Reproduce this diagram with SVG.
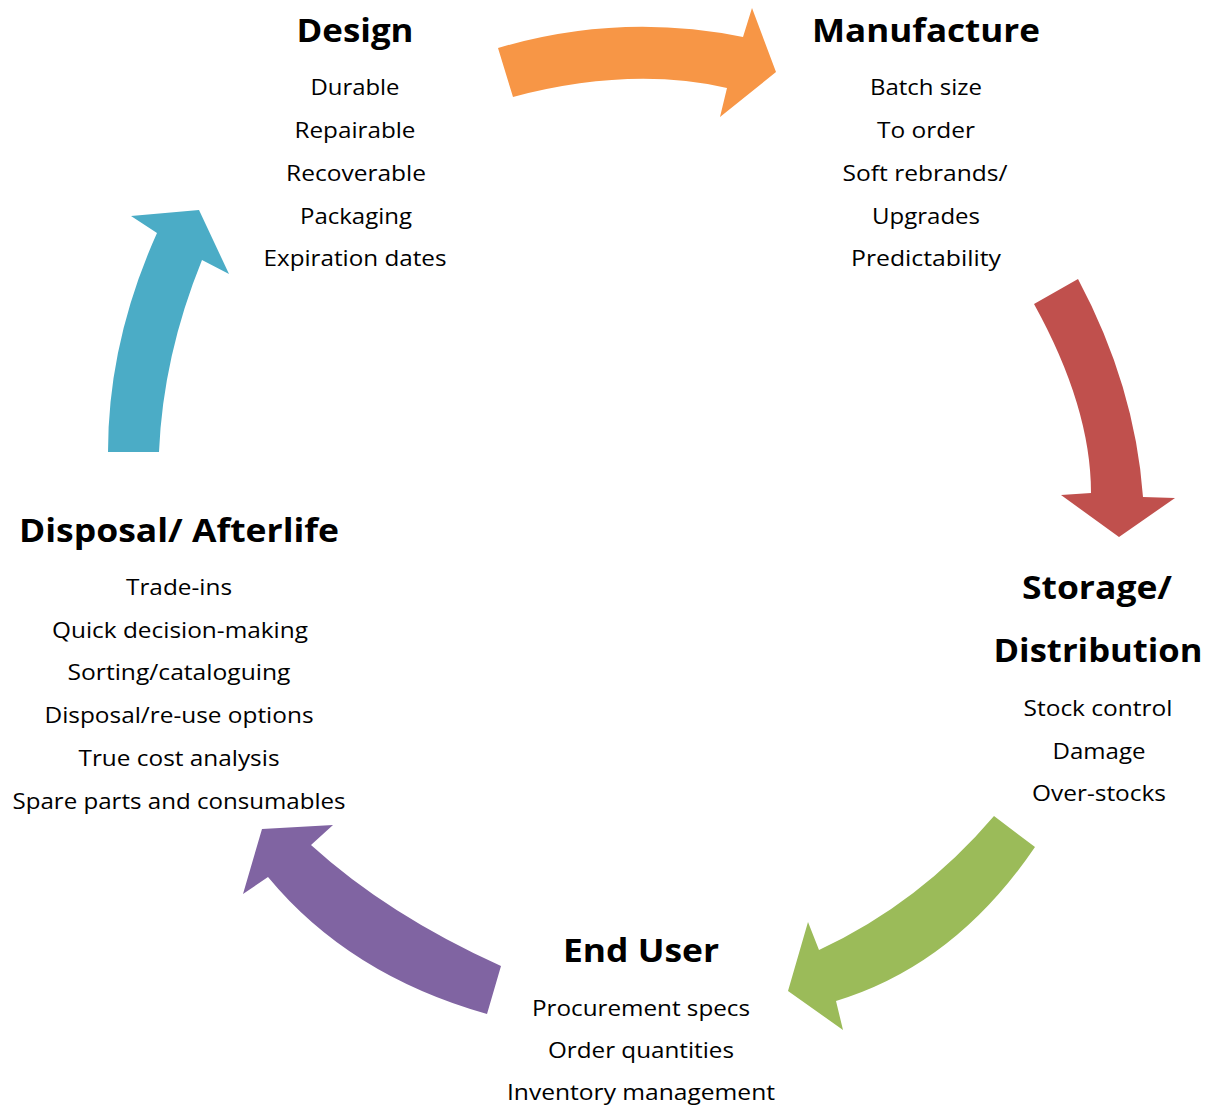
<svg xmlns="http://www.w3.org/2000/svg" width="1206" height="1106" viewBox="0 0 1206 1106">
<style>
text{font-family:"Open Sans","Liberation Sans",sans-serif;fill:#000;text-anchor:middle}
.t{font-size:33px;font-weight:bold}
.b{font-size:22px}
</style>
<rect width="1206" height="1106" fill="#fff"/>
<g id="connectors">
<path id="a-design-manufacture" fill="#F79646" d="M498,48 Q620,12 743,37 L752,8 L776,72 L720,117 L727,88 Q630,66 513,97 Z"/>
<path id="a-manufacture-storage" fill="#C0504D" d="M1034,304 L1078,279 Q1135,386 1143,497 L1175,498 L1119,537 L1061,495 L1091,493 Q1091,407 1034,304 Z"/>
<path id="a-storage-enduser" fill="#9BBB59" d="M994,816 L1035,847 Q955,965 836,1001 L843,1030 L788,991 L808,922 L819,950 Q920,903 994,816 Z"/>
<path id="a-enduser-disposal" fill="#8064A2" d="M501,966 L487,1014 Q349,975 268,877 L243,894 L262,829 L333,825 L311,845 Q388,915 501,966 Z"/>
<path id="a-disposal-design" fill="#4BACC6" d="M108,452 L159,452 Q163,356 202,260 L229,274 L199,210 L131,216 L157,233 Q108,342 108,452 Z"/>
</g>
<g id="design">
<text class="t" x="355" y="42" textLength="117" lengthAdjust="spacingAndGlyphs">Design</text>
<text class="b" x="355" y="95" textLength="89" lengthAdjust="spacingAndGlyphs">Durable</text>
<text class="b" x="355" y="138" textLength="121" lengthAdjust="spacingAndGlyphs">Repairable</text>
<text class="b" x="356" y="181" textLength="140" lengthAdjust="spacingAndGlyphs">Recoverable</text>
<text class="b" x="356" y="224" textLength="112" lengthAdjust="spacingAndGlyphs">Packaging</text>
<text class="b" x="355" y="266" textLength="183" lengthAdjust="spacingAndGlyphs">Expiration dates</text>
</g>
<g id="manufacture">
<text class="t" x="926" y="42" textLength="228" lengthAdjust="spacingAndGlyphs">Manufacture</text>
<text class="b" x="926" y="95" textLength="112" lengthAdjust="spacingAndGlyphs">Batch size</text>
<text class="b" x="926" y="138" textLength="98" lengthAdjust="spacingAndGlyphs">To order</text>
<text class="b" x="925" y="181" textLength="165" lengthAdjust="spacingAndGlyphs">Soft rebrands/</text>
<text class="b" x="926" y="224" textLength="108" lengthAdjust="spacingAndGlyphs">Upgrades</text>
<text class="b" x="926" y="266" textLength="150" lengthAdjust="spacingAndGlyphs">Predictability</text>
</g>
<g id="storage">
<text class="t" x="1097" y="599" textLength="150" lengthAdjust="spacingAndGlyphs">Storage/</text>
<text class="t" x="1098" y="662" textLength="209" lengthAdjust="spacingAndGlyphs">Distribution</text>
<text class="b" x="1098" y="716" textLength="149" lengthAdjust="spacingAndGlyphs">Stock control</text>
<text class="b" x="1099" y="759" textLength="93" lengthAdjust="spacingAndGlyphs">Damage</text>
<text class="b" x="1099" y="801" textLength="134" lengthAdjust="spacingAndGlyphs">Over-stocks</text>
</g>
<g id="enduser">
<text class="t" x="641" y="962" textLength="156" lengthAdjust="spacingAndGlyphs">End User</text>
<text class="b" x="641" y="1016" textLength="218" lengthAdjust="spacingAndGlyphs">Procurement specs</text>
<text class="b" x="641" y="1058" textLength="186" lengthAdjust="spacingAndGlyphs">Order quantities</text>
<text class="b" x="641" y="1100" textLength="268" lengthAdjust="spacingAndGlyphs">Inventory management</text>
</g>
<g id="disposal">
<text class="t" x="179" y="542" textLength="320" lengthAdjust="spacingAndGlyphs">Disposal/ Afterlife</text>
<text class="b" x="179" y="595" textLength="106" lengthAdjust="spacingAndGlyphs">Trade-ins</text>
<text class="b" x="180" y="638" textLength="256" lengthAdjust="spacingAndGlyphs">Quick decision-making</text>
<text class="b" x="179" y="680" textLength="223" lengthAdjust="spacingAndGlyphs">Sorting/cataloguing</text>
<text class="b" x="179" y="723" textLength="269" lengthAdjust="spacingAndGlyphs">Disposal/re-use options</text>
<text class="b" x="179" y="766" textLength="201" lengthAdjust="spacingAndGlyphs">True cost analysis</text>
<text class="b" x="179" y="809" textLength="333" lengthAdjust="spacingAndGlyphs">Spare parts and consumables</text>
</g>
</svg>
